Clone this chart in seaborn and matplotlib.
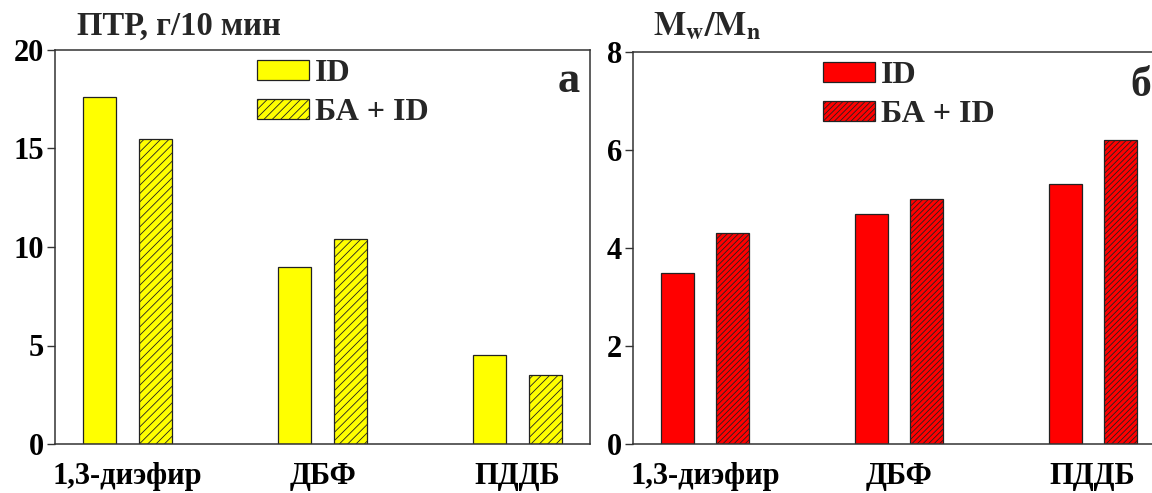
import matplotlib
matplotlib.use("Agg")
import matplotlib.pyplot as plt
import seaborn as sns
import pandas as pd

# --- data ---
categories = ["1,3-диэфир", "ДБФ", "ПДДБ"]
series = ["ID", "БА + ID"]
mfr_id = [17.6, 9.0, 4.5]        # ПТР, г/10 мин
mfr_ba_id = [15.5, 10.4, 3.5]
mwmn_id = [3.5, 4.7, 5.3]        # Mw/Mn
mwmn_ba_id = [4.3, 5.0, 6.2]
yticks_a = [0, 5, 10, 15, 20]
yticks_b = [0, 2, 4, 6, 8]


def long_table(v1, v2):
    return pd.DataFrame({
        "cat": categories * 2,
        "series": [series[0]] * 3 + [series[1]] * 3,
        "val": list(v1) + list(v2),
    })


sns.set_theme(style="ticks")
plt.rcParams["font.family"] = ["Liberation Serif", "DejaVu Serif"]
plt.rcParams["font.weight"] = "bold"
plt.rcParams["mathtext.fontset"] = "stix"
plt.rcParams["hatch.color"] = "#111111"
plt.rcParams["hatch.linewidth"] = 0.6

W, H = 1152, 493
fig = plt.figure(figsize=(W / 100, H / 100), dpi=100)


def px_axes(x0, x1, y_top, y_bot):
    return fig.add_axes([x0 / W, 1 - y_bot / H, (x1 - x0) / W, (y_bot - y_top) / H])


ax_a = px_axes(55, 590, 50, 444)
ax_b = px_axes(633, 1165, 52, 444)

spine_col = "#333333"
LEG_FS = 23


def draw_panel(ax, v1, v2, color, hatch, yticks, leg_x, leg_y):
    df = long_table(v1, v2)
    sns.barplot(data=df, x="cat", y="val", hue="series", order=categories,
                hue_order=series, palette=[color, color], width=0.572, gap=0.405,
                saturation=1, edgecolor="#222222", linewidth=0.9, legend=False, ax=ax)
    for bar in ax.containers[1]:
        bar.set_hatch(hatch)
    ax.set_xlim(-0.373, 2.373)
    ax.set_ylim(yticks[0], yticks[-1])
    ax.set_yticks(yticks)
    ax.set_xlabel("")
    ax.set_ylabel("")
    for s in ax.spines.values():
        s.set_visible(True)
        s.set_color(spine_col)
        s.set_linewidth(1.1)
    ax.tick_params(axis="y", direction="out", length=6, width=1.0, color=spine_col,
                   labelsize=22, pad=2)
    ax.tick_params(axis="x", length=0, labelsize=22, pad=13)
    for lbl in ax.get_xticklabels() + ax.get_yticklabels():
        lbl.set_fontweight("bold")
        lbl.set_color("black")
    ax.legend(handles=list(ax.containers), labels=series, loc="upper left",
              bbox_to_anchor=(leg_x, leg_y), frameon=False,
              handlelength=1.63, handleheight=0.6, handletextpad=0.18,
              labelspacing=0.3, borderpad=0, borderaxespad=0,
              prop={"weight": "bold", "size": LEG_FS})


draw_panel(ax_a, mfr_id, mfr_ba_id, "#FFFF00", "////", yticks_a, 0.378, 0.976)
draw_panel(ax_b, mwmn_id, mwmn_ba_id, "#FF0000", "//////", yticks_b, 0.357, 0.976)

# panel titles
fig.text(77 / W, 1 - 35 / H, "ПТР, г/10 мин", fontsize=23.5, fontweight="bold",
         ha="left", va="baseline")
fig.text(653 / W, 1 - 35 / H, r"$\mathrm{M}_{\mathbf{w}}\mathrm{/M}_{\mathbf{n}}$",
         fontsize=24.5, ha="left", va="baseline")

# panel letters
fig.text(580 / W, 1 - 92 / H, "а", fontsize=32, fontweight="bold",
         ha="right", va="baseline")
fig.text(1151 / W, 1 - 96 / H, "б", fontsize=30, fontweight="bold",
         ha="right", va="baseline")

fig.savefig("out.png", dpi=100)
